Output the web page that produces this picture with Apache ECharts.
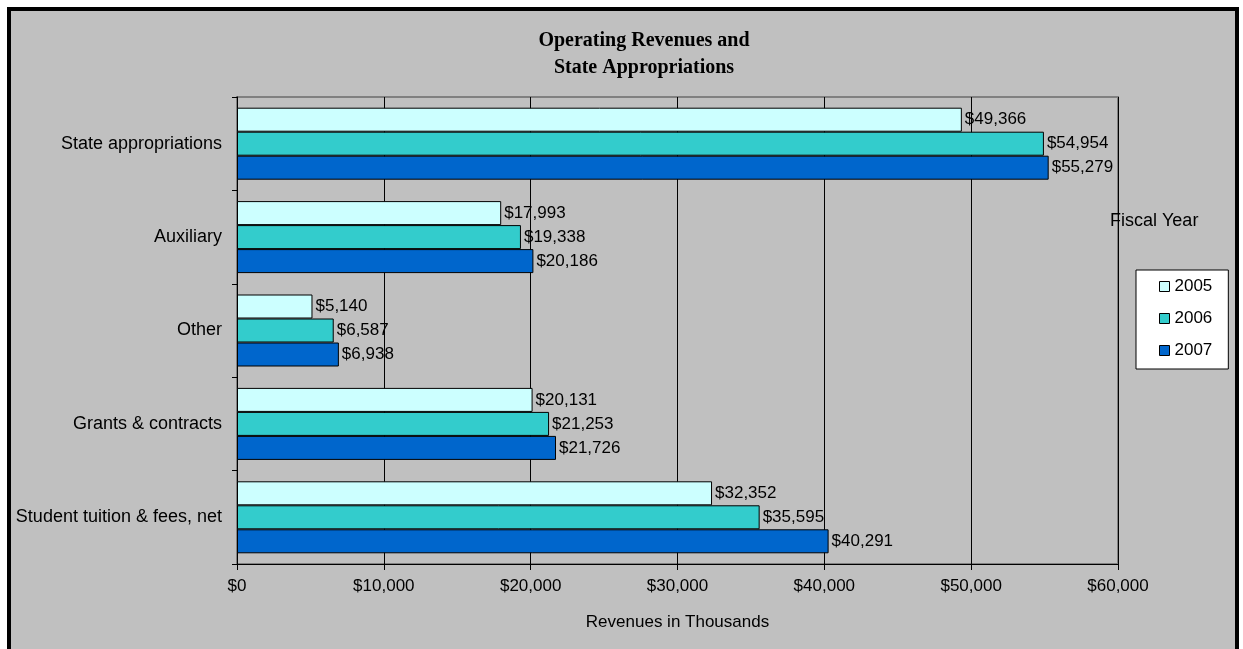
<!DOCTYPE html>
<html>
<head>
<meta charset="utf-8">
<script src="https://cdn.jsdelivr.net/npm/echarts@6/dist/echarts.min.js"></script>
<style>
html,body{margin:0;padding:0;background:#fff;}
#chart{width:1243px;height:649px;}
</style>
</head>
<body>
<div id="chart"></div>
<script>
const categories = ['State appropriations', 'Auxiliary', 'Other', 'Grants & contracts', 'Student tuition & fees, net'];
const years = ['2005', '2006', '2007'];
const values2005 = [49366, 17993, 5140, 20131, 32352];
const values2006 = [54954, 19338, 6587, 21253, 35595];
const values2007 = [55279, 20186, 6938, 21726, 40291];
const colors = ['#CCFFFF', '#33CCCC', '#0066CC'];
const xTicks = [0, 10000, 20000, 30000, 40000, 50000, 60000];

const FONT = '"Liberation Sans", Arial, sans-serif';
const fmt = v => '$' + Number(v).toLocaleString('en-US');

const seriesValues = [values2005, values2006, values2007];
const chart = echarts.init(document.getElementById('chart'), null, {renderer: 'canvas'});

chart.setOption({
  animation: false,
  backgroundColor: '#ffffff',
  graphic: [
    {type: 'rect', z: -10, shape: {x: 9, y: 9, width: 1228, height: 700},
     style: {fill: '#C0C0C0', stroke: '#000', lineWidth: 4}},
    {type: 'text', z: 10, x: 644, y: 27,
     style: {text: 'Operating Revenues and\nState Appropriations', textAlign: 'center', textVerticalAlign: 'top',
       font: 'bold 20px "Liberation Serif", "Times New Roman", serif', lineHeight: 27, fill: '#000'}},
    {type: 'text', z: 10, x: 1110, y: 212,
     style: {text: 'Fiscal Year', font: '18px ' + FONT, fill: '#000', textVerticalAlign: 'top'}}
  ],
  grid: {left: 237, right: 125, top: 97, bottom: 85, show: true, borderColor: '#808080', borderWidth: 2, backgroundColor: 'transparent'},
  legend: {
    orient: 'vertical', left: 1136, top: 270,
    data: years,
    itemWidth: 10, itemHeight: 10, itemGap: 15, icon: 'rect',
    padding: [8, 16, 10, 23],
    backgroundColor: '#fff', borderColor: '#000', borderWidth: 1,
    textStyle: {fontFamily: FONT, fontSize: 17, color: '#000'},
    itemStyle: {borderColor: '#000', borderWidth: 1}
  },
  xAxis: {
    type: 'value', min: xTicks[0], max: xTicks[xTicks.length - 1], interval: xTicks[1] - xTicks[0],
    axisLine: {show: true, lineStyle: {color: '#000', width: 1}},
    axisTick: {show: true, length: 6, lineStyle: {color: '#000'}},
    axisLabel: {formatter: fmt, fontFamily: FONT, fontSize: 17, color: '#000', margin: 14},
    splitLine: {show: true, lineStyle: {color: '#000', width: 1}},
    name: 'Revenues in Thousands', nameLocation: 'middle', nameGap: 50,
    nameTextStyle: {fontFamily: FONT, fontSize: 17, color: '#000'}
  },
  yAxis: {
    type: 'category', data: categories, inverse: true,
    axisLine: {show: true, lineStyle: {color: '#000', width: 1}},
    axisTick: {show: true, length: 5, lineStyle: {color: '#000'}},
    axisLabel: {fontFamily: FONT, fontSize: 18, color: '#000', margin: 15}
  },
  series: years.map((y, i) => ({
    name: y, type: 'bar', data: seriesValues[i],
    barWidth: 24, barGap: '0%',
    itemStyle: {color: colors[i], borderColor: '#000', borderWidth: 1},
    label: {show: true, position: 'right', distance: 3, formatter: p => fmt(p.value),
      fontFamily: FONT, fontSize: 17, color: '#000'}
  }))
});
</script>
</body>
</html>
